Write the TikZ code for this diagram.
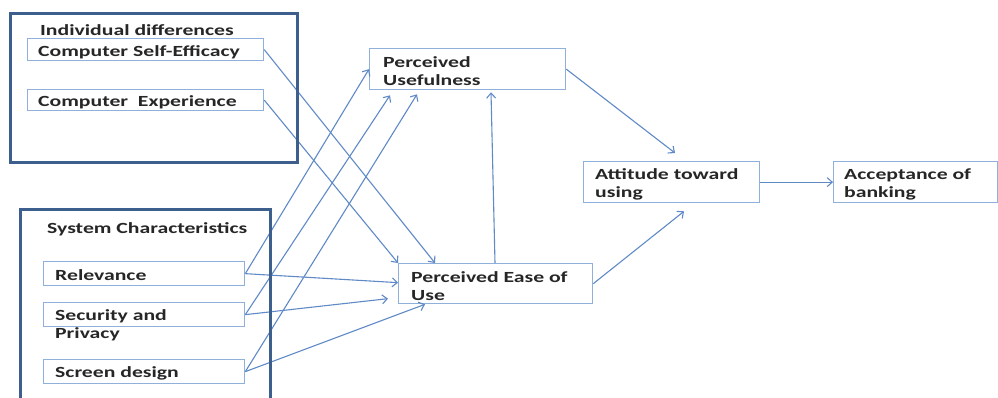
\documentclass[tikz,border=0pt]{standalone}
\usepackage{fontspec}
\setmainfont{Carlito}[FakeStretch=1.4]
\usetikzlibrary{arrows.meta}
\definecolor{outerc}{HTML}{3C5F8E}
\definecolor{innerc}{HTML}{8EB0DA}
\definecolor{arrc}{HTML}{5F8AC6}
\tikzset{
  outerbox/.style={draw=outerc, line width=2.6pt, fill=none},
  box/.style={draw=innerc, line width=1.3pt, inner sep=0pt, anchor=north west},
  lbl/.style={inner sep=0pt, anchor=base west, font=\fontsize{15.5}{18}\selectfont\bfseries, text=black!85, align=left},
  conn/.style={draw=arrc, line width=1.1pt, -{Straight Barb[length=5pt,width=9pt]}}
}
\begin{document}
\begin{tikzpicture}[x=1pt,y=-1pt]
\useasboundingbox (0,0) rectangle (998,397);
\clip (0,0) rectangle (998,397);
% inner boxes
\node[box, minimum width=236pt, minimum height=22pt] (cse) at (27,38) {};
\node[box, minimum width=236pt, minimum height=21pt] (ce) at (27,89) {};
\node[box, minimum width=201pt, minimum height=24pt] (rel) at (43,261) {};
\node[box, minimum width=201pt, minimum height=24pt] (sec) at (43,302) {};
\node[box, minimum width=201pt, minimum height=24pt] (scr) at (43,359) {};
\node[box, minimum width=196pt, minimum height=41pt] (pu) at (369,48) {};
\node[box, minimum width=194pt, minimum height=40pt] (peu) at (398,263) {};
\node[box, minimum width=176pt, minimum height=41pt] (atu) at (583,161) {};
\node[box, minimum width=164pt, minimum height=41pt] (ab) at (833,161) {};
% labels (base = baseline of the last line)
\node[lbl] (tid) at (40,35) {Individual differences};
\node[lbl] (tcse) at (38,56) {Computer Self-Efficacy};
\node[lbl] (tce) at (38,106) {Computer\ \ Experience};
\node[lbl] (tsc) at (47,233) {System Characteristics};
\node[lbl] (trel) at (55,280) {Relevance};
\node[lbl] (tsec) at (55,338) {Security and\\Privacy};
\node[lbl] (tscr) at (55,377) {Screen design};
\node[lbl] (tpu) at (383,85) {Perceived\\Usefulness};
\node[lbl] (tpeu) at (411,300) {Perceived Ease of\\Use};
\node[lbl] (tatu) at (595,197) {Attitude toward\\using};
\node[lbl] (tab) at (844,197) {Acceptance of\\banking};
% connectors
\draw[conn] (cse.east) -- ([xshift=37pt]peu.north west);
\draw[conn] (ce.east) -- (peu.north west);
\draw[conn] (rel.east) -- (pu.west);
\draw[conn] (sec.east) -- ([xshift=21pt,yshift=-5pt]pu.south west);
\draw[conn] (scr.east) -- ([xshift=48pt,yshift=-4pt]pu.south west);
\draw[conn] (rel.east) -- ([yshift=1pt]peu.west);
\draw[conn] (sec.east) -- ([xshift=-10pt,yshift=-15pt]peu.west);
\draw[conn] (scr.east) -- ([xshift=27pt]peu.south west);
\draw[conn] ([xshift=97pt]peu.north west) -- ([xshift=122pt,yshift=-2pt]pu.south west);
\draw[conn] (pu.east) -- ([xshift=92pt,yshift=8pt]atu.north west);
\draw[conn] (peu.east) -- ([xshift=101pt,yshift=-8pt]atu.south west);
\draw[conn] (atu.east) -- (ab.west);
% outer boxes
\node[outerbox, inner sep=0pt, anchor=north west, minimum width=287pt, minimum height=149pt] (ind) at (9,12) {};
\node[outerbox, inner sep=0pt, anchor=north west, minimum width=250pt, minimum height=210pt] (sys) at (19,208) {};
\end{tikzpicture}
\end{document}
